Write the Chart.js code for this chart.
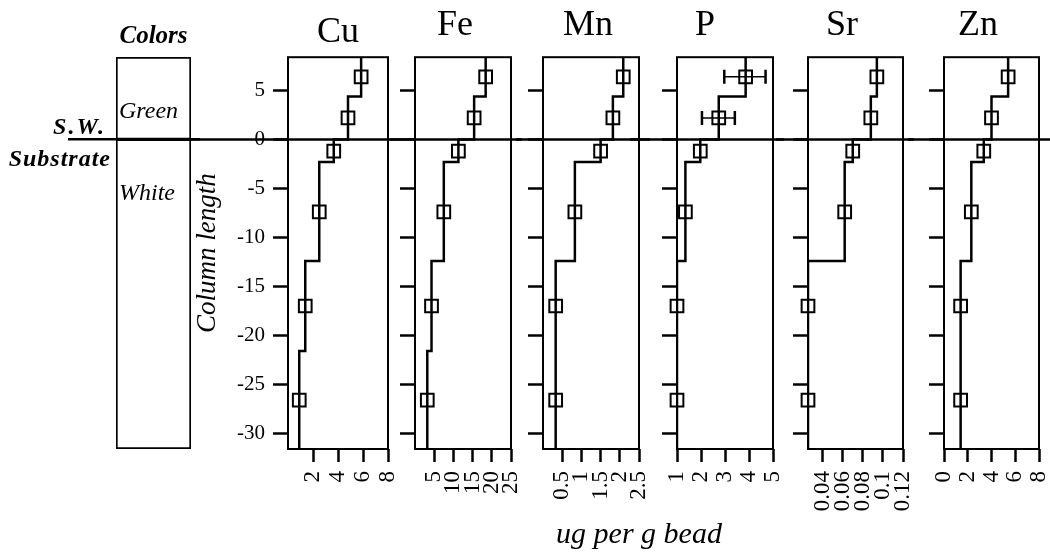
<!DOCTYPE html>
<html>
<head>
<meta charset="utf-8">
<script src="https://cdn.jsdelivr.net/npm/chart.js@4.4.0/dist/chart.umd.min.js"></script>
<style>
  html, body { margin: 0; padding: 0; background: #fff; }
  #fig { position: relative; width: 1050px; height: 554px; overflow: hidden; background: #fff; }
  #fig canvas { position: absolute; top: 0; }
  #xlabel {
    position: absolute; left: 639px; top: 518px; transform: translateX(-50%);
    font: italic 30px "Liberation Serif", serif; line-height: 30px; white-space: nowrap; color: #000;
  }
</style>
</head>
<body>
<div id="fig">
  <canvas id="c-colors"></canvas>
  <canvas id="c-Cu"></canvas>
  <canvas id="c-Fe"></canvas>
  <canvas id="c-Mn"></canvas>
  <canvas id="c-P"></canvas>
  <canvas id="c-Sr"></canvas>
  <canvas id="c-Zn"></canvas>
  <div id="xlabel">ug per g bead</div>
</div>
<script>
// depth intervals of the six samples (cm, 0 = sea water / substrate boundary)
const sampleDepth = [6.4, 2.2, -1.2, -7.4, -17, -26.6];
const segmentTop = [8.4, 4.4, 0, -2.3, -12.4, -21.6];
const segmentBottom = [4.4, 0, -2.3, -12.4, -21.6, -31.6];
const depthTicks = [5, 0, -5, -10, -15, -20, -25, -30];

// bead colour column
const colorBands = ['Green', 'White'];
const colorTop = [8.4, 0];
const colorBottom = [0, -31.6];

// ug per g bead
const cuValues = [5.85, 4.8, 3.66, 2.5, 1.38, 0.9];
const feValues = [18.4, 15.4, 11.3, 7.5, 4.3, 3.2];
const mnValues = [2.09, 1.82, 1.5, 0.83, 0.33, 0.33];
const pValues = [3.86, 2.74, 1.97, 1.35, 1.0, 1.0];
const srValues = [0.094, 0.088, 0.070, 0.062, 0.0255, 0.0255];
const znValues = [5.4, 4.0, 3.35, 2.3, 1.4, 1.4];
const pErrLow = [2.97, 2.04, null, null, null, null];
const pErrHigh = [4.69, 3.41, null, null, null, null];

const cuTicks = [2, 4, 6, 8];
const feTicks = [5, 10, 15, 20, 25];
const mnTicks = [0.5, 1, 1.5, 2, 2.5];
const pTicks = [1, 2, 3, 4, 5];
const srTicks = [0.04, 0.06, 0.08, 0.1, 0.12];
const znTicks = [0, 2, 4, 6, 8];

const serif = '"Liberation Serif", "DejaVu Serif", serif';
const depthMin = -31.6, depthMax = 8.4;

// frame round the plot area + the S.W./substrate line at depth 0
const framePlugin = {
  id: 'frame',
  afterDraw(chart, args, opts) {
    const { ctx, chartArea, scales } = chart;
    ctx.save();
    ctx.strokeStyle = '#000';
    if (opts.box) {
      ctx.lineWidth = 2;
      ctx.strokeRect(chartArea.left, chartArea.top, chartArea.right - chartArea.left, chartArea.bottom - chartArea.top);
    }
    const y0 = scales.y.getPixelForValue(0);
    ctx.lineWidth = 2.5;
    ctx.beginPath();
    ctx.moveTo(opts.lineFrom || 0, y0);
    ctx.lineTo(chart.width, y0);
    ctx.stroke();
    ctx.restore();
  }
};

const bandLabelPlugin = {
  id: 'bandLabels',
  afterDatasetsDraw(chart) {
    const { ctx, chartArea, scales } = chart;
    ctx.save();
    ctx.fillStyle = '#000';
    ctx.textBaseline = 'alphabetic';
    ctx.font = 'italic 24px ' + serif;
    ctx.textAlign = 'left';
    chart.data.datasets.forEach((ds, i) => {
      const bar = chart.getDatasetMeta(i).data[0];
      const top = Math.min(bar.y, bar.base);
      ctx.fillText(ds.label, bar.x - bar.width / 2 + 3, top + 61);
    });
    const y0 = scales.y.getPixelForValue(0);
    ctx.font = 'bold italic 24px ' + serif;
    ctx.textAlign = 'right';
    ctx.letterSpacing = '2px';
    ctx.fillText('S.W.', chartArea.left - 10, y0 - 5);
    ctx.letterSpacing = '1px';
    ctx.fillText('Substrate', chartArea.left - 5, y0 + 27);
    ctx.restore();
  }
};

const errorBarPlugin = {
  id: 'errorBars',
  afterDatasetsDraw(chart, args, opts) {
    if (!opts.low) return;
    const { ctx, scales } = chart;
    ctx.save();
    ctx.strokeStyle = '#000';
    opts.low.forEach((lo, i) => {
      if (lo === null) return;
      const y = scales.y.getPixelForValue(opts.depth[i]);
      const x1 = scales.x.getPixelForValue(lo);
      const x2 = scales.x.getPixelForValue(opts.high[i]);
      ctx.lineWidth = 1.5;
      ctx.beginPath();
      ctx.moveTo(x1, y); ctx.lineTo(x2, y);
      ctx.stroke();
      ctx.lineWidth = 2.5;
      ctx.beginPath();
      ctx.moveTo(x1, y - 7); ctx.lineTo(x1, y + 7);
      ctx.moveTo(x2, y - 7); ctx.lineTo(x2, y + 7);
      ctx.stroke();
    });
    ctx.restore();
  }
};

function setupCanvas(id, left, width) {
  const canvas = document.getElementById(id);
  canvas.width = width;
  canvas.height = 554;
  canvas.style.left = left + 'px';
  canvas.style.width = width + 'px';
  canvas.style.height = '554px';
  return canvas;
}

// Colors column: two floating bars
new Chart(setupCanvas('c-colors', 0, 200), {
  type: 'bar',
  data: {
    labels: ['Colors'],
    datasets: colorBands.map((band, i) => ({
      label: band,
      data: [[colorBottom[i], colorTop[i]]],
      backgroundColor: '#fff',
      borderColor: '#000',
      borderWidth: 2,
      borderSkipped: false,
      barPercentage: 1,
      categoryPercentage: 1,
      grouped: false
    }))
  },
  options: {
    responsive: false,
    animation: false,
    events: [],
    layout: { padding: { left: 116, right: 9, top: 0, bottom: 105 } },
    scales: {
      x: { display: false },
      y: { display: false, min: depthMin, max: depthMax }
    },
    plugins: {
      legend: { display: false },
      tooltip: { enabled: false },
      title: {
        display: true, text: 'Colors', color: '#000',
        font: { family: serif, size: 25, style: 'italic', weight: 'bold' },
        padding: { top: 21.6, bottom: 5.4 }
      },
      frame: { box: false, lineFrom: 68 }
    }
  },
  plugins: [framePlugin, bandLabelPlugin]
});

const panels = [
  { name: 'Cu', values: cuValues, ticks: cuTicks, min: 0, max: 8, left: 190, width: 210, padL: 0, padR: 12, yWidth: 98, first: true },
  { name: 'Fe', values: feValues, ticks: feTicks, min: 0, max: 25, left: 390, width: 132, padL: 6, padR: 8, yWidth: 19 },
  { name: 'Mn', values: mnValues, ticks: mnTicks, min: 0, max: 2.5, left: 516, width: 134, padL: 19, padR: 9, yWidth: 8 },
  { name: 'P', values: pValues, ticks: pTicks, min: 1, max: 5, left: 630, width: 154, padL: 4, padR: 8, yWidth: 43, errLow: pErrLow, errHigh: pErrHigh },
  { name: 'Sr', values: srValues, ticks: srTicks, min: 0.0255, max: 0.12, left: 776, width: 138, padL: 2, padR: 8, yWidth: 30 },
  { name: 'Zn', values: znValues, ticks: znTicks, min: 0, max: 8, left: 908, width: 142, padL: 6, padR: 8, yWidth: 30 }
];

panels.forEach(p => {
  const stepLine = [];
  p.values.forEach((v, i) => {
    stepLine.push({ x: v, y: segmentTop[i] });
    stepLine.push({ x: v, y: segmentBottom[i] });
  });
  const samples = p.values.map((v, i) => ({ x: v, y: sampleDepth[i] }));

  new Chart(setupCanvas('c-' + p.name, p.left, p.width), {
    type: 'scatter',
    data: {
      datasets: [
        {
          label: p.name + ' samples',
          data: samples,
          clip: 14,
          pointStyle: 'rect',
          pointRadius: 9,
          pointBorderWidth: 2,
          pointBorderColor: '#000',
          pointBackgroundColor: 'rgba(0,0,0,0)'
        },
        {
          label: p.name + ' profile',
          data: stepLine,
          showLine: true,
          borderColor: '#000',
          borderWidth: 2.5,
          pointRadius: 0,
          tension: 0
        }
      ]
    },
    options: {
      responsive: false,
      animation: false,
      events: [],
      layout: { padding: { left: p.padL, right: p.padR, top: 0, bottom: 0 } },
      scales: {
        x: {
          type: 'linear', min: p.min, max: p.max,
          border: { display: false },
          grid: { drawOnChartArea: false, drawTicks: true, tickLength: 13, tickWidth: 2.5, tickColor: '#000' },
          ticks: {
            autoSkip: false, minRotation: 90, maxRotation: 90, padding: 9, color: '#000',
            font: { family: serif, size: 23 },
            callback: v => String(v)
          },
          afterBuildTicks: s => { s.ticks = p.ticks.map(v => ({ value: v })); },
          afterFit: s => { s.height = 105; s.paddingLeft = 0; s.paddingRight = 0; }
        },
        y: {
          type: 'linear', min: depthMin, max: depthMax,
          border: { display: false },
          grid: { drawOnChartArea: false, drawTicks: true, tickLength: 15, tickWidth: 2.5, tickColor: '#000' },
          ticks: {
            display: !!p.first, autoSkip: false, padding: 8, color: '#000',
            font: { family: serif, size: 21 },
            callback: v => String(v)
          },
          title: {
            display: !!p.first, text: 'Column length', color: '#000',
            font: { family: serif, size: 27, style: 'italic' },
            padding: { top: 2, bottom: 0 }
          },
          afterBuildTicks: s => { s.ticks = depthTicks.map(v => ({ value: v })); },
          afterFit: s => { s.width = p.yWidth; s.paddingTop = 0; s.paddingBottom = 0; }
        }
      },
      plugins: {
        legend: { display: false },
        tooltip: { enabled: false },
        title: {
          display: true, text: p.name, color: '#000',
          fullSize: !p.first,
          font: { family: serif, size: 36, weight: 'normal' },
          padding: p.first ? { top: 11, bottom: 3 } : { top: 4, bottom: 10 }
        },
        frame: { box: true },
        errorBars: { low: p.errLow, high: p.errHigh, depth: sampleDepth }
      }
    },
    plugins: [framePlugin, errorBarPlugin]
  });
});
</script>
</body>
</html>
